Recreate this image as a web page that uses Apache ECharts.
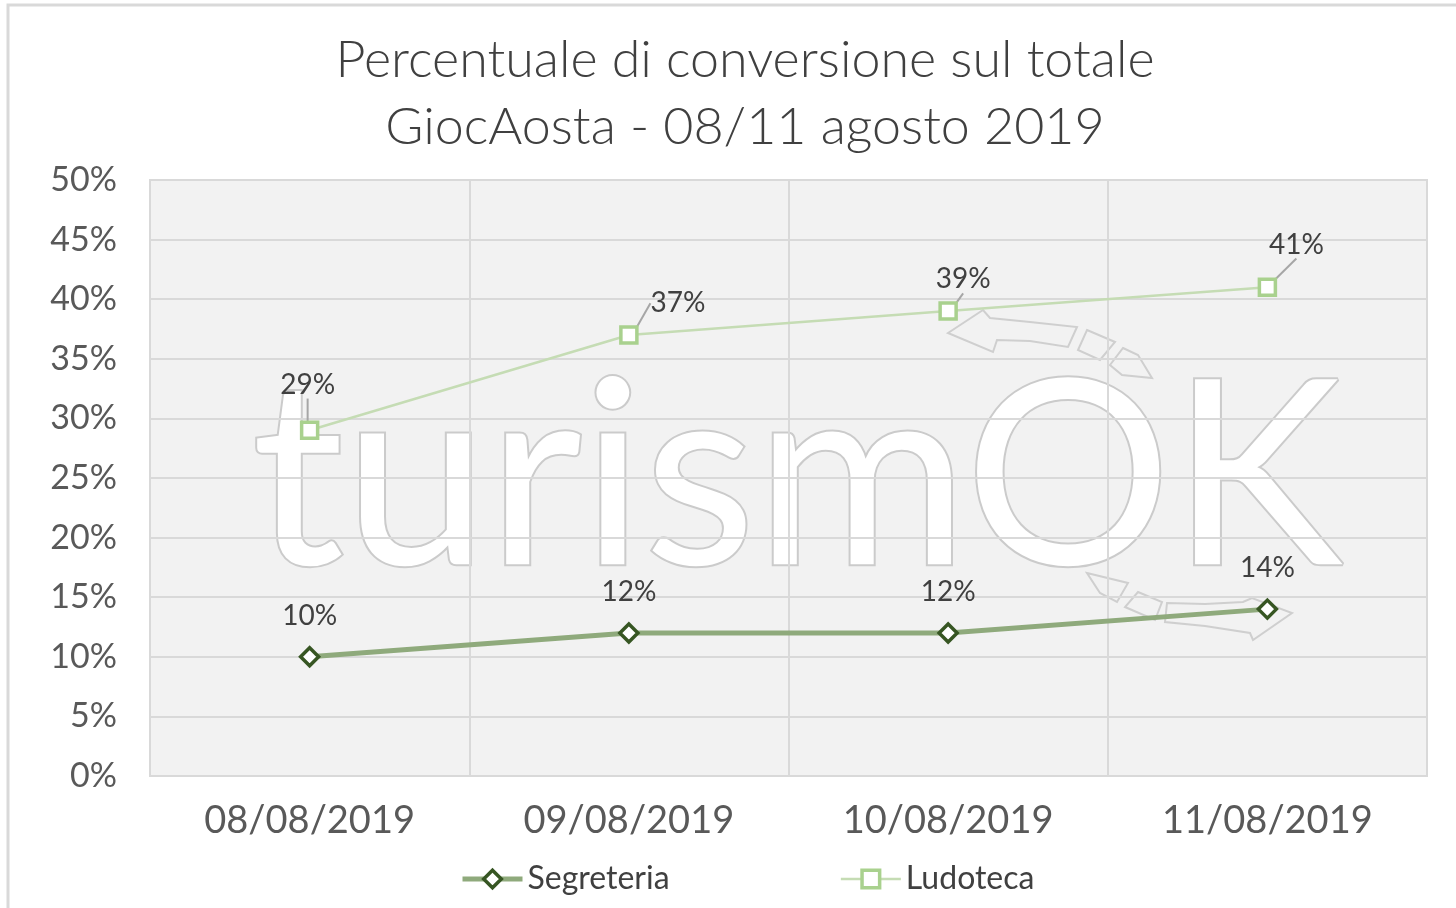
<!DOCTYPE html>
<html>
<head>
<meta charset="utf-8">
<script src="https://cdn.jsdelivr.net/npm/echarts@6/dist/echarts.min.js"></script>
<style>
  html, body { margin: 0; padding: 0; background: #fff; }
  #chart { width: 1456px; height: 908px; }
</style>
</head>
<body>
<div id="chart"></div>
<script>
// dati
const categories = ['08/08/2019', '09/08/2019', '10/08/2019', '11/08/2019']
const segreteria = [10, 12, 12, 14]
const ludoteca = [29, 37, 39, 41]

// spostamento etichette Ludoteca (come nell'originale)
const ludoLabelShift = [[-2, -17], [49, -3], [15, -3], [29, -14]]

const font = 'Lato'
const chart = echarts.init(document.getElementById('chart'))

const wm = { fill: 'none', stroke: '#cfcfcf', lineWidth: 2 }

const option = {
  backgroundColor: '#fff',
  title: {
    text: 'Percentuale di conversione sul totale\nGiocAosta - 08/11 agosto 2019',
    left: 740,
    top: 22,
    textAlign: 'center',
    textStyle: { fontFamily: font, fontWeight: 300, fontSize: 52, lineHeight: 67, color: '#404040' }
  },
  grid: { left: 150, right: 29, top: 180, bottom: 132, show: true, backgroundColor: '#f2f2f2', borderColor: '#d9d9d9', borderWidth: 2, z: -2 },
  legend: {
    bottom: 8,
    left: 455,
    itemWidth: 60,
    itemHeight: 22,
    itemGap: 170,
    textStyle: { fontFamily: font, fontSize: 32, color: '#404040' },
    data: [
      { name: 'Segreteria', lineStyle: { width: 5, color: '#8faa7c' }, itemStyle: { borderWidth: 3.5 } },
      { name: 'Ludoteca', lineStyle: { width: 2.5, color: '#c5dcb4' }, itemStyle: { borderWidth: 3.5 } }
    ]
  },
  xAxis: {
    type: 'category',
    data: categories,
    boundaryGap: true,
    axisLine: { lineStyle: { color: '#d9d9d9', width: 2 } },
    axisTick: { show: false },
    axisLabel: { fontFamily: font, fontSize: 38, color: '#595959', margin: 26 },
    splitLine: { show: true, lineStyle: { color: '#d9d9d9', width: 2 } }
  },
  yAxis: {
    type: 'value',
    min: 0,
    max: 50,
    interval: 5,
    axisLine: { show: false },
    axisTick: { show: false },
    axisLabel: { fontFamily: font, fontSize: 34, color: '#595959', margin: 33, formatter: '{value}%' },
    splitLine: { lineStyle: { color: '#d9d9d9', width: 2 } }
  },
  graphic: [
    {
      type: 'text', z: -1, silent: true,
      x: 797, y: 610,
      style: {
        text: 'turismOK', textAlign: 'center', textVerticalAlign: 'bottom',
        font: 'normal 258px Lato', fill: '#ffffff', stroke: '#cbcbcb', lineWidth: 4, strokeFirst: true
      }
    },
    { type: 'polygon', z: -1, silent: true, shape: { points: [[948, 333], [983, 310], [990, 318], [1030, 322], [1077, 327], [1068, 347], [1030, 341], [997, 340], [993, 352]] }, style: wm },
    { type: 'polygon', z: -1, silent: true, shape: { points: [[1087, 330], [1115, 342], [1100, 360], [1078, 350]] }, style: wm },
    { type: 'polygon', z: -1, silent: true, shape: { points: [[1123, 348], [1138, 355], [1152, 378], [1122, 375], [1110, 365]] }, style: wm },
    { type: 'polygon', z: -1, silent: true, shape: { points: [[1087, 573], [1128, 583], [1117, 602], [1100, 593]] }, style: wm },
    { type: 'polygon', z: -1, silent: true, shape: { points: [[1138, 592], [1162, 602], [1155, 620], [1125, 607]] }, style: wm },
    { type: 'polygon', z: -1, silent: true, shape: { points: [[1167, 603], [1205, 604], [1243, 602], [1252, 598], [1292, 613], [1253, 640], [1250, 633], [1205, 626], [1165, 622]] }, style: wm },
    { type: 'rect', z: -3, silent: true, shape: { x: 8, y: 5, width: 1500, height: 1000 }, style: { fill: '#fff', stroke: '#d9d9d9', lineWidth: 3 } }
  ],
  series: [
    {
      name: 'Segreteria',
      type: 'line',
      data: segreteria,
      symbol: 'diamond',
      symbolSize: 18,
      lineStyle: { color: '#8faa7c', width: 5 },
      itemStyle: { color: '#ffffff', borderColor: '#375623', borderWidth: 3.5 },
      label: { show: true, position: 'top', distance: 16, formatter: '{c}%', fontFamily: font, fontSize: 28, color: '#404040' },
      z: 3
    },
    {
      name: 'Ludoteca',
      type: 'line',
      data: ludoteca,
      symbol: 'rect',
      symbolSize: 16,
      lineStyle: { color: '#c5dcb4', width: 2.5 },
      itemStyle: { color: '#ffffff', borderColor: '#a9d18e', borderWidth: 3.5 },
      label: { show: true, position: 'top', distance: 5, formatter: '{c}%', fontFamily: font, fontSize: 28, color: '#404040' },
      labelLine: { show: true, lineStyle: { color: '#a6a6a6', width: 2 } },
      labelLayout: function (p) {
        if (p.seriesIndex !== 1) return {}
        const s = ludoLabelShift[p.dataIndex]
        return { dx: s[0], dy: s[1] }
      },
      z: 3
    }
  ]
}

chart.setOption(option)
</script>
</body>
</html>
